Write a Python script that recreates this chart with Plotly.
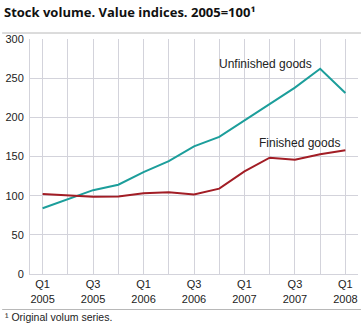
import plotly.graph_objects as go

# Quarterly stock volume, value indices (2005 = 100)
quarters = ["Q1 2005", "Q2 2005", "Q3 2005", "Q4 2005",
            "Q1 2006", "Q2 2006", "Q3 2006", "Q4 2006",
            "Q1 2007", "Q2 2007", "Q3 2007", "Q4 2007",
            "Q1 2008"]
unfinished_goods = [84, 96, 107, 114, 130, 144, 163, 175, 196, 217, 238, 262, 231]
finished_goods = [102, 100, 98.5, 99, 103, 104.5, 101.5, 109, 131, 148.5, 146, 153, 158]

tick_labels = ["Q1<br>2005", "", "Q3<br>2005", "", "Q1<br>2006", "", "Q3<br>2006", "",
               "Q1<br>2007", "", "Q3<br>2007", "", "Q1<br>2008"]

teal = "#1c9e9b"
red = "#a21d25"
grid = "#d3d3db"
font = "Liberation Sans, Arial, sans-serif"

x = list(range(len(quarters)))

fig = go.Figure()
fig.add_trace(go.Scatter(x=x, y=unfinished_goods, mode="lines", name="Unfinished goods",
                         line=dict(color=teal, width=2), hoverinfo="skip"))
fig.add_trace(go.Scatter(x=x, y=finished_goods, mode="lines", name="Finished goods",
                         line=dict(color=red, width=2), hoverinfo="skip"))

fig.update_layout(
    width=363, height=325,
    margin=dict(l=28, r=5, t=39, b=51),
    paper_bgcolor="white", plot_bgcolor="white",
    showlegend=False,
    font=dict(family=font, size=11, color="#222"),
    xaxis=dict(range=[-0.5, 12.5], tickvals=x, ticktext=tick_labels,
               showgrid=True, gridcolor=grid, gridwidth=1,
               showline=True, linecolor=grid, linewidth=1,
               zeroline=False, ticks="", tickfont=dict(size=11)),
    yaxis=dict(range=[0, 300], dtick=50, showgrid=True, gridcolor=grid,
               gridwidth=1, showline=True, linecolor=grid, linewidth=1,
               zeroline=False, ticks="", tickfont=dict(size=11), ticklabelstandoff=3),
    annotations=[
        dict(x=8.83, y=268, xref="x", yref="y", text="Unfinished goods", showarrow=False,
             font=dict(size=12, family=font, color="#222")),
        dict(x=10.19, y=167, xref="x", yref="y", text="Finished goods", showarrow=False,
             font=dict(size=12, family=font, color="#222")),
        dict(x=-28 / 330, y=1 + 27 / 235, xref="paper", yref="paper", xanchor="left",
             yanchor="middle", text="<b>Stock volume. Value indices. 2005=100¹</b>",
             showarrow=False, font=dict(size=13, family="Open Sans, sans-serif", color="#111")),
        dict(x=-27 / 330, y=-43 / 235, xref="paper", yref="paper", xanchor="left",
             yanchor="middle", text="¹ Original volum series.", showarrow=False,
             font=dict(size=10.5, family=font, color="#222")),
    ],
    shapes=[
        dict(type="line", xref="paper", yref="paper", x0=-28 / 330, x1=1 + 3 / 330,
             y0=1 + 6 / 235, y1=1 + 6 / 235, line=dict(color="#b8b8b8", width=1)),
        dict(type="line", xref="paper", yref="paper", x0=-28 / 330, x1=1 + 3 / 330,
             y0=-35.5 / 235, y1=-35.5 / 235, line=dict(color="#b8b8b8", width=1)),
    ],
)

fig.write_html("out.html")
